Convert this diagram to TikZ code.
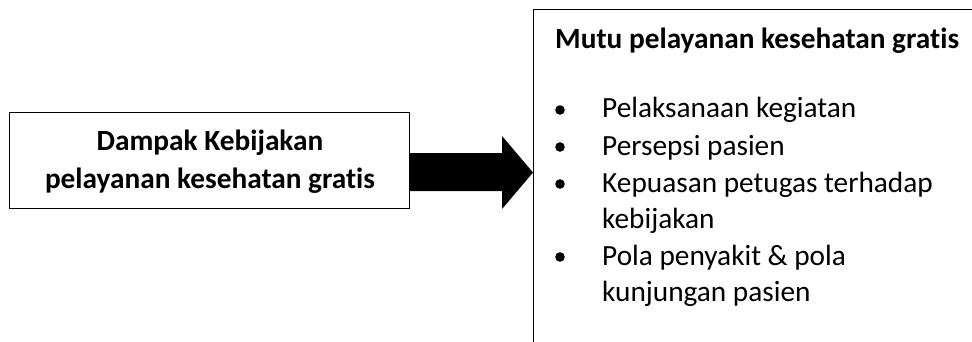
\documentclass[tikz,border=0pt]{standalone}
\usepackage{fontspec}
\setmainfont{Carlito}[Ligatures=CommonOff]
\usetikzlibrary{calc,positioning}

\tikzset{
  kotak/.style={draw, line width=1pt, inner sep=0pt},
  baris/.style={anchor=base west, inner sep=0pt, font=\fontsize{29.3}{35}\selectfont},
  tebal/.style={anchor=base, inner sep=0pt, font=\bfseries\fontsize{29.3}{35}\selectfont},
}

\begin{document}
\begin{tikzpicture}[x=1pt,y=-1pt]
\clip (0,0) rectangle (972,341);

\node[kotak, anchor=north west, minimum width=400pt, minimum height=96pt] (dampak) at (8.5,112) {};
\node[tebal] (dampak1) at (210,150) {Dampak Kebijakan};
\node[tebal] (dampak2) at (210,188) {pelayanan kesehatan gratis};

\node[kotak, anchor=north west, minimum width=500pt, minimum height=400pt] (mutu) at (533,9) {};
\node[tebal, anchor=base west] (judul) at (555,48) {Mutu pelayanan kesehatan gratis};

\foreach \teks/\y in {Pelaksanaan kegiatan/117, Persepsi pasien/155,
    Kepuasan petugas terhadap/192, kebijakan/228,
    Pola penyakit \& pola/265, kunjungan pasien/301}
  \node[baris] at (602,\y) {\teks};

\foreach \y in {110,147,184,257}
  \fill (560,\y) circle (4.8pt);

\coordinate (ujung) at (mutu.west |- 0,172.5);
\fill (dampak.east |- 0,153) -- (502,153) -- (502,136) -- (ujung)
      -- (502,209) -- (502,191) -- (dampak.east |- 0,191) -- cycle;
\end{tikzpicture}
\end{document}
